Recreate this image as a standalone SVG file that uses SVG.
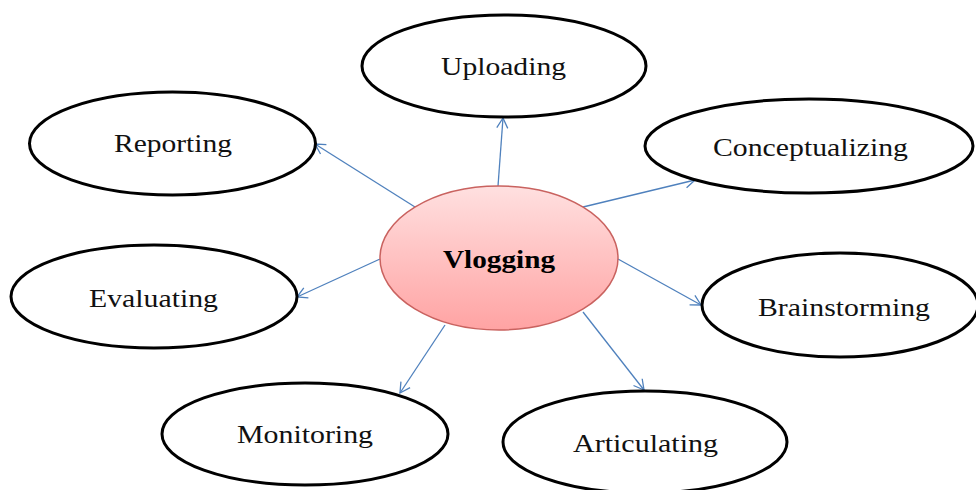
<svg xmlns="http://www.w3.org/2000/svg" width="976" height="490" viewBox="0 0 976 490">
<defs>
<linearGradient id="pinkGrad" x1="0" y1="0" x2="0" y2="1">
<stop offset="0" stop-color="#ffe0e0"/>
<stop offset="1" stop-color="#ffa3a3"/>
</linearGradient>
<marker id="arr" markerUnits="userSpaceOnUse" markerWidth="14" markerHeight="14" viewBox="0 0 14 14" refX="12" refY="7" orient="auto">
<path d="M2,1.5 L12,7 L2,12.5" fill="none" stroke="#4f81bd" stroke-width="1.3"/>
</marker>
<style>
.node{fill:#fff;stroke:#000;stroke-width:3}
.lbl{font-family:"Liberation Serif","Times New Roman",serif;font-size:25px;fill:#111;text-anchor:middle}
.conn{stroke:#4f81bd;stroke-width:1.3;fill:none;marker-end:url(#arr)}
</style>
</defs>
<rect width="976" height="490" fill="#fff"/>
<g id="connectors">
<line class="conn" x1="498" y1="186" x2="503" y2="118"/>
<line class="conn" x1="583" y1="207" x2="695" y2="180"/>
<line class="conn" x1="618" y1="259" x2="701" y2="305"/>
<line class="conn" x1="583" y1="312" x2="644" y2="390"/>
<line class="conn" x1="445" y1="325" x2="400" y2="393"/>
<line class="conn" x1="380" y1="259" x2="297" y2="297"/>
<line class="conn" x1="415" y1="207" x2="315" y2="144"/>
</g>
<g id="vlogging">
<ellipse cx="499" cy="258" rx="119" ry="72" fill="url(#pinkGrad)" stroke="#c9625f" stroke-width="1.5"/>
<text x="499" y="268" font-family="'Liberation Serif','Times New Roman',serif" font-size="26" font-weight="bold" text-anchor="middle" fill="#000" textLength="112" lengthAdjust="spacingAndGlyphs">Vlogging</text>
</g>
<g id="uploading">
<ellipse class="node" cx="504" cy="66" rx="142" ry="51"/>
<text class="lbl" x="503.5" y="75" textLength="125" lengthAdjust="spacingAndGlyphs">Uploading</text>
</g>
<g id="conceptualizing">
<ellipse class="node" cx="809" cy="146" rx="164" ry="47"/>
<text class="lbl" x="810.5" y="156" textLength="195" lengthAdjust="spacingAndGlyphs">Conceptualizing</text>
</g>
<g id="brainstorming">
<ellipse class="node" cx="840" cy="305" rx="138" ry="52"/>
<text class="lbl" x="844" y="316" textLength="172" lengthAdjust="spacingAndGlyphs">Brainstorming</text>
</g>
<g id="articulating">
<ellipse class="node" cx="645" cy="442" rx="142" ry="51"/>
<text class="lbl" x="645.5" y="452" textLength="145" lengthAdjust="spacingAndGlyphs">Articulating</text>
</g>
<g id="monitoring">
<ellipse class="node" cx="305" cy="434" rx="143" ry="51"/>
<text class="lbl" x="305" y="443" textLength="136" lengthAdjust="spacingAndGlyphs">Monitoring</text>
</g>
<g id="evaluating">
<ellipse class="node" cx="154" cy="296.5" rx="143" ry="51.5"/>
<text class="lbl" x="153.5" y="307" textLength="129" lengthAdjust="spacingAndGlyphs">Evaluating</text>
</g>
<g id="reporting">
<ellipse class="node" cx="172.5" cy="143.5" rx="143" ry="51.5"/>
<text class="lbl" x="173" y="152" textLength="118" lengthAdjust="spacingAndGlyphs">Reporting</text>
</g>
</svg>
